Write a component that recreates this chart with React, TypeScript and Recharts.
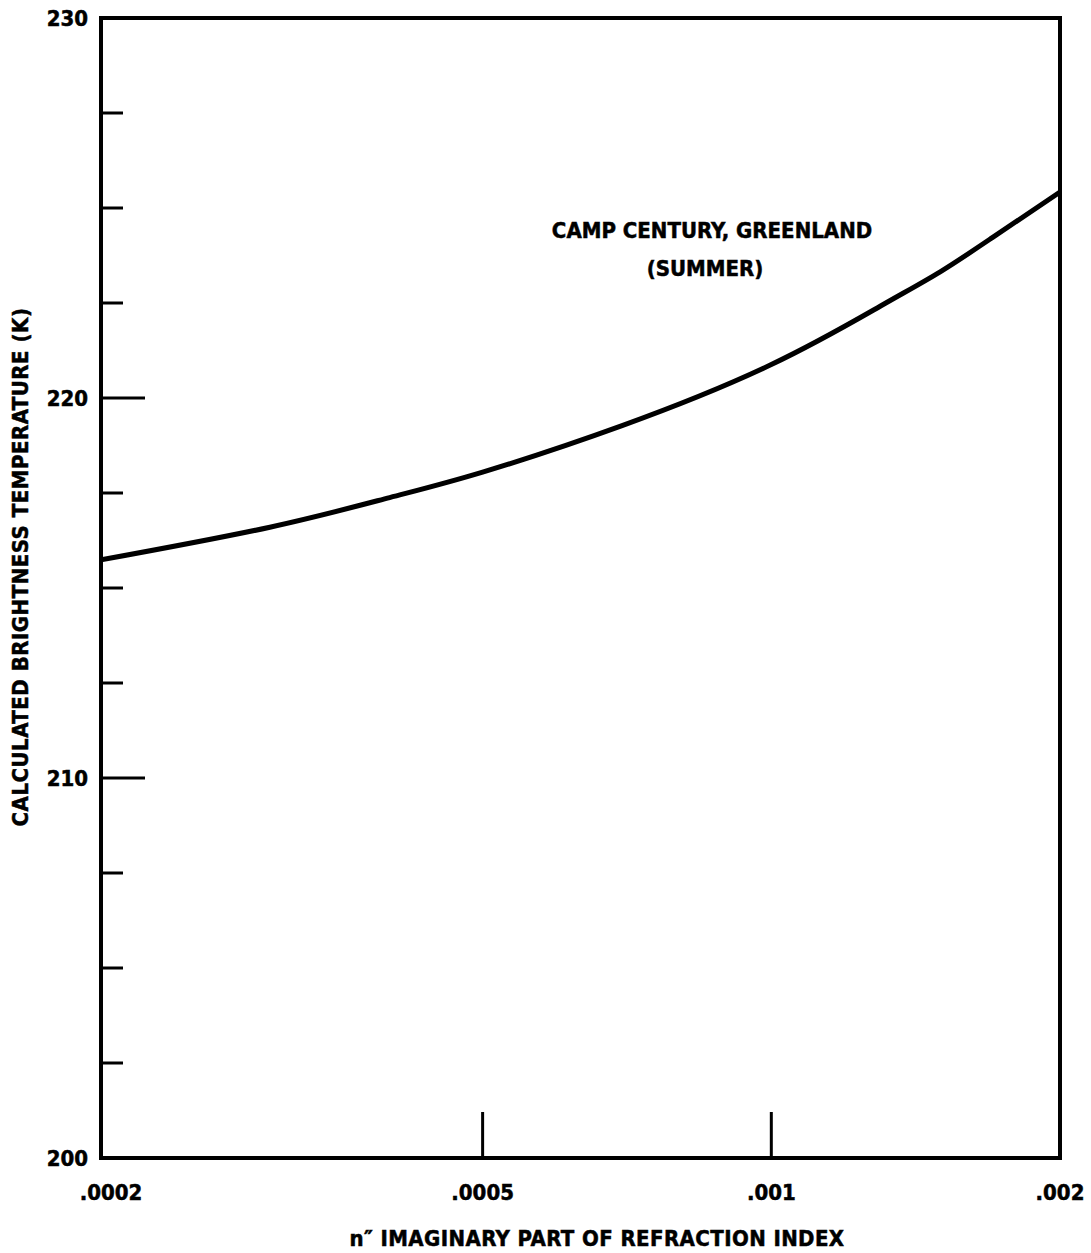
import React from "react";
import { LineChart, Line, XAxis, YAxis, ReferenceArea } from "recharts";

const nValues = [0.0002, 0.0003, 0.0004, 0.0005, 0.0007, 0.001, 0.0013, 0.0015, 0.0017, 0.002];
const temps = [215.74, 216.6, 217.38, 218.05, 219.28, 220.88, 222.42, 223.32, 224.22, 225.42];

const xTicks = [0.0002, 0.0005, 0.001, 0.002];
const xTickLabels = [".0002", ".0005", ".001", ".002"];
const xInnerTicks = [0.0005, 0.001];

const yTicks = [200, 202.5, 205, 207.5, 210, 212.5, 215, 217.5, 220, 222.5, 225, 227.5, 230];
const yLabelTicks = [200, 210, 220, 230];
const yMajorTicks = [210, 220];

const data = nValues.map((n, i) => ({ n, t: temps[i] }));

const FONT = "'DejaVu Sans Condensed', 'Liberation Sans Narrow', sans-serif";

const XTick = (props: any) => {
  const { x, y, payload } = props;
  const v = payload.value;
  const idx = xTicks.indexOf(v);
  const label = idx >= 0 ? xTickLabels[idx] : "";
  const dx = v === 0.0002 ? 10 : 0;
  return (
    <g>
      {xInnerTicks.includes(v) && (
        <line x1={x} y1={y} x2={x} y2={y - 46} stroke="#000" strokeWidth={3} />
      )}
      <text x={x + dx} y={y + 42} textAnchor="middle" fontFamily={FONT} fontWeight="bold" fontSize={22} fill="#000" stroke="#000" strokeWidth={0.5}>
        {label}
      </text>
    </g>
  );
};

const YTick = (props: any) => {
  const { x, y, payload } = props;
  const v = payload.value;
  const isMajor = yMajorTicks.includes(v);
  const hasLine = v !== 200 && v !== 230;
  return (
    <g>
      {hasLine && (
        <line x1={x} y1={y} x2={x + (isMajor ? 44 : 22)} y2={y} stroke="#000" strokeWidth={3} />
      )}
      {yLabelTicks.includes(v) && (
        <text x={x - 13} y={y + 8} textAnchor="end" fontFamily={FONT} fontWeight="bold" fontSize={22} fill="#000" stroke="#000" strokeWidth={0.5}>
          {String(v)}
        </text>
      )}
    </g>
  );
};

export default function App() {
  return (
    <div style={{ position: "absolute", left: 0, top: 0, background: "#fff" }}>
      <LineChart width={1091} height={1253} data={data} margin={{ top: 18, right: 31, bottom: 35, left: 41 }}>
        <XAxis
          dataKey="n"
          type="number"
          scale="log"
          domain={[0.0002, 0.002]}
          ticks={xTicks}
          tick={<XTick />}
          tickLine={false}
          tickSize={0}
          tickMargin={0}
          axisLine={false}
          height={60}
          allowDataOverflow
        />
        <YAxis
          type="number"
          domain={[200, 230]}
          ticks={yTicks}
          tick={<YTick />}
          tickLine={false}
          tickSize={0}
          tickMargin={0}
          axisLine={false}
          width={60}
          interval={0}
          allowDataOverflow
        />
        <ReferenceArea x1={0.0002} x2={0.002} y1={200} y2={230} fill="none" stroke="#000" strokeWidth={4} ifOverflow="visible" />
        <Line dataKey="t" type="natural" stroke="#000" strokeWidth={5} dot={false} isAnimationActive={false} />
        <text x={712} y={238} textAnchor="middle" fontFamily={FONT} fontWeight="bold" fontSize={22} fill="#000" stroke="#000" strokeWidth={0.5}>
          CAMP CENTURY, GREENLAND
        </text>
        <text x={705} y={276} textAnchor="middle" fontFamily={FONT} fontWeight="bold" fontSize={22} fill="#000" stroke="#000" strokeWidth={0.5}>
          (SUMMER)
        </text>
        <text x={597} y={1246} textAnchor="middle" fontFamily={FONT} fontWeight="bold" fontSize={22} letterSpacing={0.4} fill="#000" stroke="#000" strokeWidth={0.5}>
          n″ IMAGINARY PART OF REFRACTION INDEX
        </text>
        <text
          x={28}
          y={567}
          textAnchor="middle"
          fontFamily={FONT}
          fontWeight="bold"
          fontSize={22}
          letterSpacing={0.5}
          fill="#000"
          stroke="#000"
          strokeWidth={0.5}
          transform="rotate(-90 28 567)"
        >
          CALCULATED BRIGHTNESS TEMPERATURE (K)
        </text>
      </LineChart>
    </div>
  );
}
